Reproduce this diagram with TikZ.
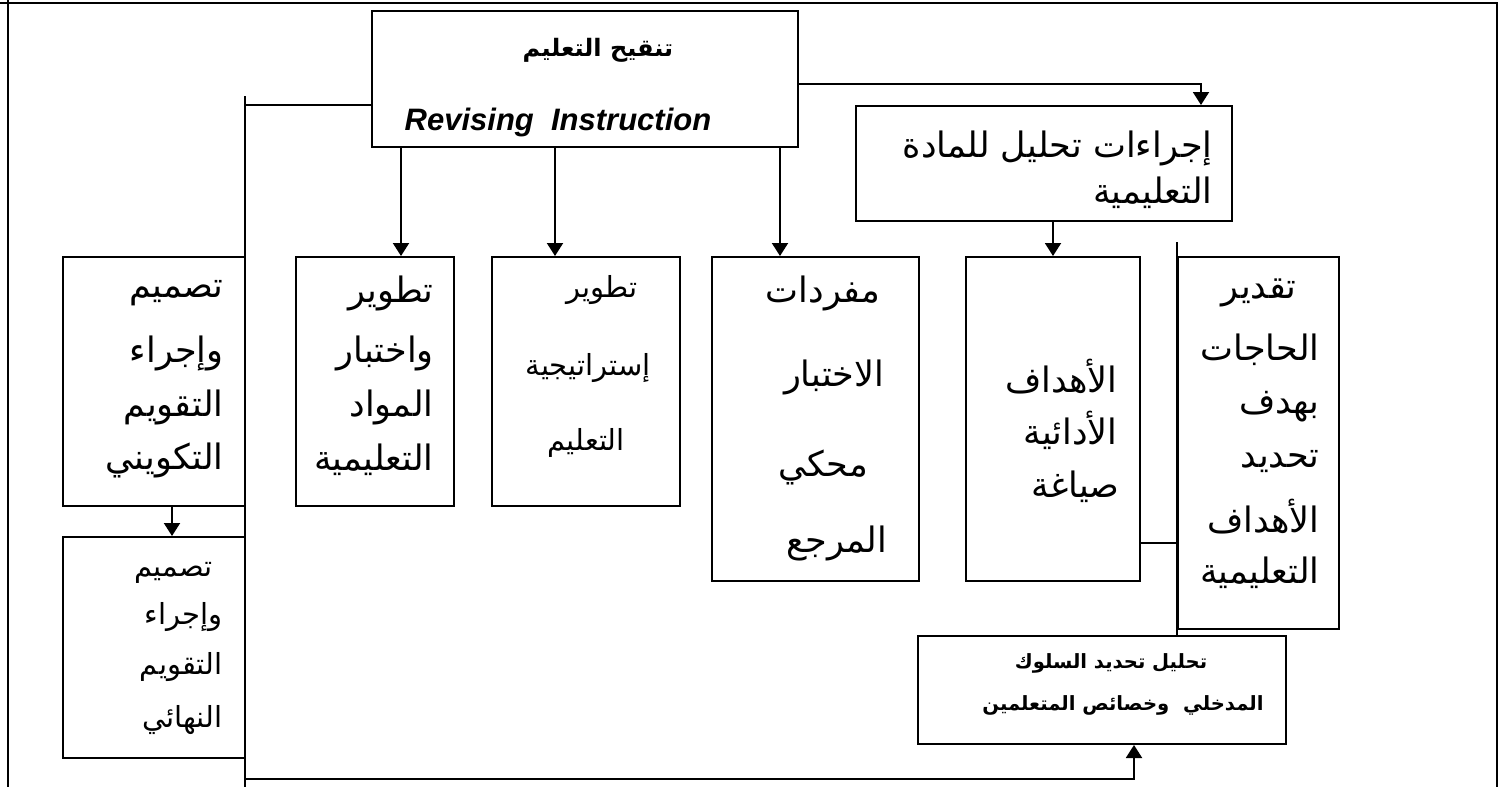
\documentclass[tikz,border=0pt]{standalone}
\usepackage{fontspec}
\setmainfont{Liberation Sans}
\newfontfamily\arabicfont[Script=Arabic]{DejaVu Sans}
\TeXXeTstate=1
\usetikzlibrary{fit,arrows.meta}
\newcommand{\artxt}[1]{\beginR #1\endR}

\begin{document}
\begin{tikzpicture}[x=0.5pt,y=-0.5pt]

  % --- styles ---
  \tikzset{
    framebox/.style={draw=black, line width=1pt, inner sep=0pt, fit={#1}},
    wire/.style={draw=black, line width=1pt},
    flowarrow/.style={wire, -{Triangle[length=6.5pt,width=8pt]}},
    arline/.style={font=\arabicfont\fontsize{17.5}{20}\selectfont, inner sep=0pt},
    arsmall/.style={font=\arabicfont\fontsize{14.5}{18}\selectfont, inner sep=0pt},
    arbold/.style={font=\arabicfont\bfseries\fontsize{9.8}{12}\selectfont, inner sep=0pt},
    titlebold/.style={font=\arabicfont\bfseries\fontsize{12}{15}\selectfont, inner sep=0pt},
    entext/.style={font=\bfseries\itshape\fontsize{15.5}{18}\selectfont, inner sep=0pt},
  }

  \useasboundingbox (0,0) rectangle (1510,787);

  % --- page frame ---
  \draw[wire] (0,3) -- (1497,3) -- (1497,787);
  \draw[wire] (8,0) -- (8,787);

  % =========================
  %  BOXES
  % =========================

  \node[framebox={(372,11) (798,147)}]    (revise)     {};
  \node[framebox={(856,106) (1232,221)}]  (analysis)   {};
  \node[framebox={(63,257) (245,506)}]    (formeval)   {};
  \node[framebox={(63,537) (245,758)}]    (sumeval)    {};
  \node[framebox={(296,257) (454,506)}]   (materials)  {};
  \node[framebox={(492,257) (680,506)}]   (strategy)   {};
  \node[framebox={(712,257) (919,581)}]   (testitems)  {};
  \node[framebox={(966,257) (1140,581)}]  (objectives) {};
  \node[framebox={(1178,257) (1339,629)}] (needs)      {};
  \node[framebox={(918,636) (1286,744)}]  (entry)      {};

  % =========================
  %  CONNECTORS
  % =========================

  \coordinate (colB) at (401,0);
  \coordinate (colC) at (555,0);
  \coordinate (colD) at (780,0);
  \coordinate (colA) at (172,0);
  \coordinate (colG) at (1134,0);
  \coordinate (bustop) at (245,96);
  \coordinate (busjoin) at (245,105);
  \coordinate (busbottom) at (245,779);
  \coordinate (linkEF) at (1140,543);

  \draw[wire] (bustop) -- (245,787);
  \draw[wire] (busjoin) -- (busjoin -| revise.west);
  \draw[flowarrow] ([yshift=-2.5pt]revise.east) -| ([xshift=78.5pt]analysis.north);

  \draw[flowarrow] (revise.south -| colB) -- (materials.north -| colB);
  \draw[flowarrow] (revise.south -| colC) -- (strategy.north -| colC);
  \draw[flowarrow] (revise.south -| colD) -- (testitems.north -| colD);
  \draw[flowarrow] (analysis.south -| objectives.north) -- (objectives.north);
  \draw[flowarrow] (formeval.south -| colA) -- (sumeval.north -| colA);

  \draw[wire] (linkEF) -- (linkEF -| needs.west);
  \draw[wire] ([yshift=7pt]needs.north west) -- (entry.north -| needs.west);
  \draw[flowarrow] (busbottom) -| (entry.south -| colG);

  % =========================
  %  TEXTS
  % =========================

  \node[titlebold] (revisear) at (598,50) {\artxt{تنقيح التعليم}};
  \node[entext]    (reviseen) at (558,122) {Revising\ \ Instruction};

  \node[arline, anchor=east] (an1) at (1213,148) {\artxt{إجراءات تحليل للمادة}};
  \node[arline, anchor=east] (an2) at (1213,193) {\artxt{التعليمية}};

  \node[arline, anchor=east] (fe1) at (224,293) {\artxt{تصميم}};
  \node[arline, anchor=east] (fe2) at (224,353) {\artxt{وإجراء}};
  \node[arline, anchor=east] (fe3) at (224,407) {\artxt{التقويم}};
  \node[arline, anchor=east] (fe4) at (224,460) {\artxt{التكويني}};

  \node[arsmall, anchor=east] (se1) at (213,573) {\artxt{تصميم}};
  \node[arsmall, anchor=east] (se2) at (223,617) {\artxt{وإجراء}};
  \node[arsmall, anchor=east] (se3) at (223,667) {\artxt{التقويم}};
  \node[arsmall, anchor=east] (se4) at (223,720) {\artxt{النهائي}};

  \node[arline, anchor=east] (ma1) at (434,293) {\artxt{تطوير}};
  \node[arline, anchor=east] (ma2) at (434,353) {\artxt{واختبار}};
  \node[arline, anchor=east] (ma3) at (434,407) {\artxt{المواد}};
  \node[arline, anchor=east] (ma4) at (434,460) {\artxt{التعليمية}};

  \node[arsmall] (st1) at (602,290) {\artxt{تطوير}};
  \node[arsmall] (st2) at (588,368) {\artxt{إستراتيجية}};
  \node[arsmall] (st3) at (586,443) {\artxt{التعليم}};

  \node[arline] (ti1) at (823,293) {\artxt{مفردات}};
  \node[arline] (ti2) at (834,377) {\artxt{الاختبار}};
  \node[arline] (ti3) at (823,467) {\artxt{محكي}};
  \node[arline] (ti4) at (837,543) {\artxt{المرجع}};

  \node[arline, anchor=east] (ob1) at (1118,377) {\artxt{الأهداف}};
  \node[arline, anchor=east] (ob2) at (1118,430) {\artxt{الأدائية}};
  \node[arline, anchor=east] (ob3) at (1120,487) {\artxt{صياغة}};

  \node[arline, anchor=east] (ne1) at (1297,293) {\artxt{تقدير}};
  \node[arline, anchor=east] (ne2) at (1320,350) {\artxt{الحاجات}};
  \node[arline, anchor=east] (ne3) at (1320,407) {\artxt{بهدف}};
  \node[arline, anchor=east] (ne4) at (1320,462) {\artxt{تحديد}};
  \node[arline, anchor=east] (ne5) at (1320,517) {\artxt{الأهداف}};
  \node[arline, anchor=east] (ne6) at (1320,573) {\artxt{التعليمية}};

  \node[arbold] (en1) at (1111,663) {\artxt{تحليل تحديد السلوك}};
  \node[arbold] (en2) at (1123,705) {\artxt{المدخلي\ \ وخصائص المتعلمين}};

\end{tikzpicture}
\end{document}
